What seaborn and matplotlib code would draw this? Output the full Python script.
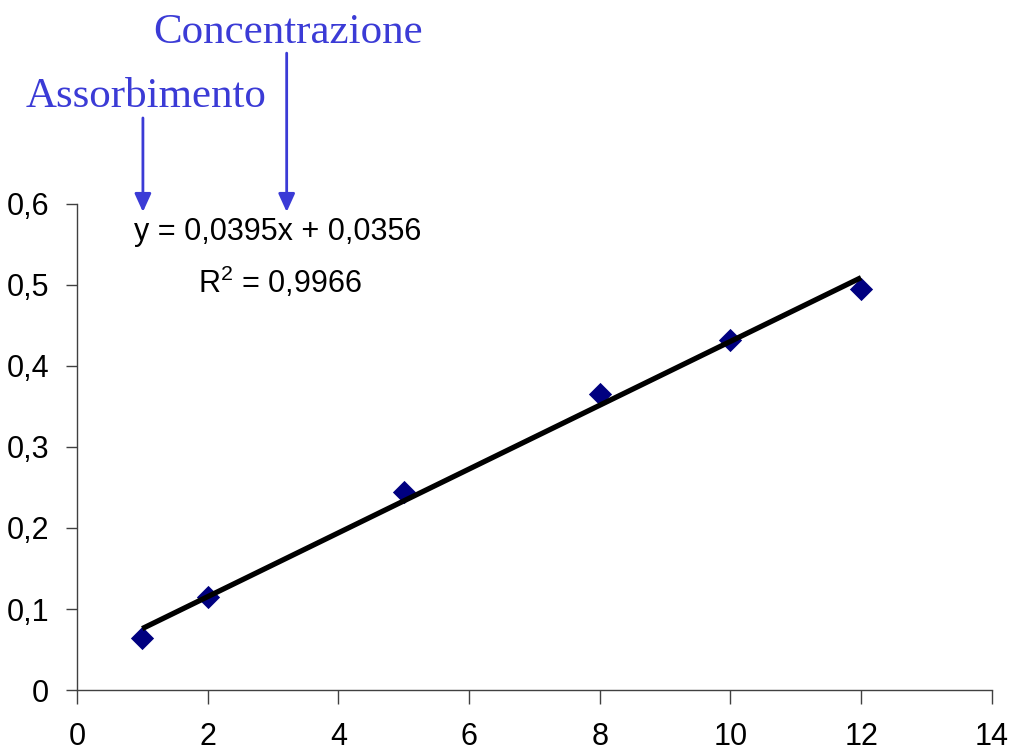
import numpy as np
import pandas as pd
import matplotlib
matplotlib.use('Agg')
import matplotlib.pyplot as plt
import seaborn as sns

# Calibration data (concentration vs absorbance)
concentrazione = [1, 2, 5, 8, 10, 12]
assorbimento = [0.064, 0.115, 0.244, 0.365, 0.432, 0.495]
x_ticks = [0, 2, 4, 6, 8, 10, 12, 14]
y_ticks = [0, 0.1, 0.2, 0.3, 0.4, 0.5, 0.6]
equation = 'y = 0,0395x + 0,0356'
r_squared = 'R$^2$ = 0,9966'

sns.set_style('white')
plt.rcParams['font.family'] = ['Liberation Sans Narrow', 'Liberation Sans', 'DejaVu Sans']
plt.rcParams['text.color'] = 'black'
plt.rcParams['xtick.labelcolor'] = 'black'
plt.rcParams['ytick.labelcolor'] = 'black'
plt.rcParams['mathtext.fontset'] = 'custom'
plt.rcParams['mathtext.rm'] = 'Liberation Sans'

df = pd.DataFrame({'Concentrazione': concentrazione, 'Assorbimento': assorbimento})

fig = plt.figure(figsize=(10.12, 7.55), dpi=100)
ax = fig.add_axes([0.076, 0.086, 0.904, 0.644])

sns.regplot(data=df, x='Concentrazione', y='Assorbimento', ci=None, ax=ax,
            marker='D', truncate=True,
            scatter_kws=dict(color='#000080', s=140, zorder=2, linewidths=0, alpha=1),
            line_kws=dict(color='black', lw=3.8, zorder=3, solid_capstyle='butt'))

ax.set(xlim=(0, 14), ylim=(0, 0.6), xlabel='', ylabel='')
ax.set_xticks(x_ticks)
ax.set_yticks(y_ticks)
ax.set_xticklabels([str(t) for t in x_ticks], fontsize=22)
ax.set_yticklabels([('%g' % t).replace('.', ',') for t in y_ticks], fontsize=22)
ax.tick_params(axis='x', direction='out', length=10, width=1, color='#404040', pad=13, bottom=True)
ax.tick_params(axis='y', direction='out', length=8, width=1, color='#404040', pad=12, left=True)
sns.despine(ax=ax)
for side in ['left', 'bottom']:
    ax.spines[side].set_color('#404040')
    ax.spines[side].set_linewidth(1)

# Trendline equation
ax.text(3.08, 0.556, equation, ha='center', va='baseline', fontsize=22)
ax.text(3.1, 0.49, r_squared, ha='center', va='baseline', fontsize=22)

# Blue annotations pointing at y and x
blue = '#3b3bd6'
serif = ['Liberation Serif', 'DejaVu Serif']
arrow = dict(arrowstyle='-|>,head_length=1.1,head_width=0.5', color=blue, lw=2, shrinkA=0, shrinkB=0)
ax.annotate('', xy=(1.01, 0.59), xytext=(1.01, 0.706), arrowprops=arrow, annotation_clip=False)
ax.annotate('', xy=(3.21, 0.59), xytext=(3.21, 0.786), arrowprops=arrow, annotation_clip=False)
ax.text(1.06, 0.72, 'Assorbimento', ha='center', va='baseline', fontsize=31,
        color=blue, family=serif, clip_on=False)
ax.text(3.23, 0.799, 'Concentrazione', ha='center', va='baseline', fontsize=31,
        color=blue, family=serif, clip_on=False)

fig.savefig('out.png', dpi=100)
